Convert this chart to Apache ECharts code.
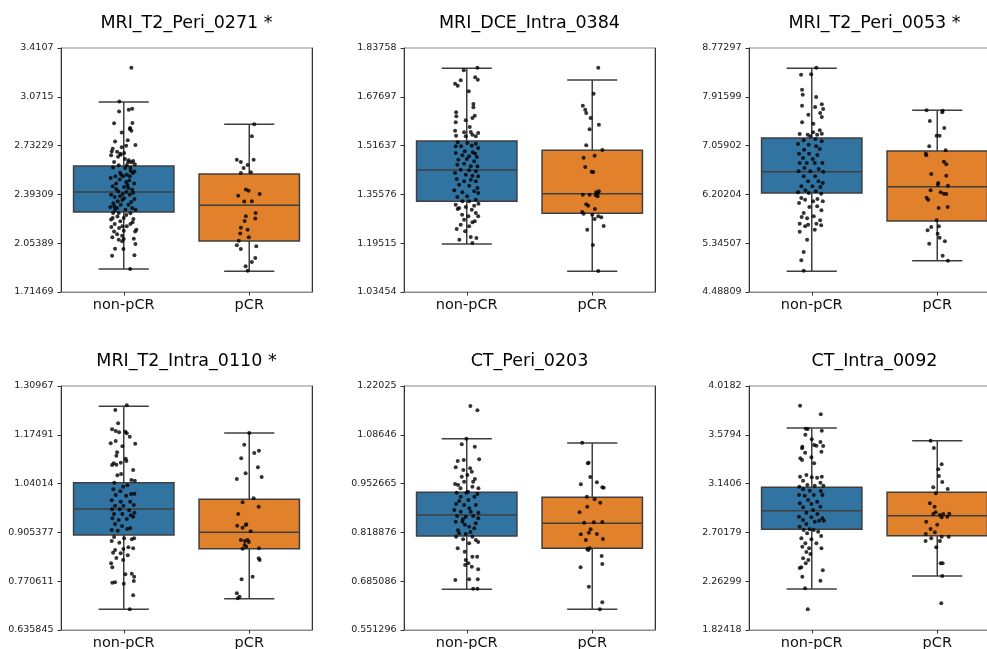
<!DOCTYPE html>
<html>
<head>
<meta charset="utf-8">
<script src="https://cdn.jsdelivr.net/npm/echarts@6.0.0/dist/echarts.min.js"></script>
<style>
  html, body { margin: 0; padding: 0; background: #fff; }
  #chart { width: 987px; height: 649px; }
</style>
</head>
<body>
<div id="chart"></div>
<script>
// categories and titles
var groups = ['non-pCR', 'pCR'];
var titles = ['MRI_T2_Peri_0271 *', 'MRI_DCE_Intra_0384', 'MRI_T2_Peri_0053 *',
              'MRI_T2_Intra_0110 *', 'CT_Peri_0203', 'CT_Intra_0092'];

// y tick labels per panel (bottom to top)
var ticks1 = ['1.71469', '2.05389', '2.39309', '2.73229', '3.0715', '3.4107'];
var ticks2 = ['1.03454', '1.19515', '1.35576', '1.51637', '1.67697', '1.83758'];
var ticks3 = ['4.48809', '5.34507', '6.20204', '7.05902', '7.91599', '8.77297'];
var ticks4 = ['0.635845', '0.770611', '0.905377', '1.04014', '1.17491', '1.30967'];
var ticks5 = ['0.551296', '0.685086', '0.818876', '0.952665', '1.08646', '1.22025'];
var ticks6 = ['1.82418', '2.26299', '2.70179', '3.1406', '3.5794', '4.0182'];

// box stats per group: [lower whisker, Q1, median, Q3, upper whisker]
var box1 = [[1.8746, 2.2708, 2.4098, 2.5905, 3.0354], [1.8584, 2.0692, 2.3171, 2.5349, 2.8802]];
var box2 = [[1.1925, 1.3329, 1.4360, 1.5315, 1.7706], [1.1025, 1.2934, 1.3581, 1.5008, 1.7322]];
var box3 = [[4.8510, 6.2267, 6.6013, 7.1925, 8.4159], [5.0384, 5.7349, 6.3379, 6.9642, 7.6784]];
var box4 = [[0.6929, 0.8982, 0.9700, 1.0427, 1.2535], [0.7224, 0.8605, 0.9056, 0.9967, 1.1799]];
var box5 = [[0.6628, 0.8090, 0.8666, 0.9287, 1.0759], [0.6080, 0.7752, 0.8437, 0.9150, 1.0640]];
var box6 = [[2.1929, 2.7294, 2.8972, 3.1070, 3.6405], [2.3097, 2.6724, 2.8522, 3.0621, 3.5267]];

// strip points: [jitter offset from category, value]
var non1 = [[0.061,3.274],[-0.035,3.038],[0.040,2.982],[0.067,2.989],[-0.037,2.970],[-0.077,2.887],[0.069,2.889],[-0.016,2.824],[0.048,2.848],[0.061,2.836],[0.051,2.855],[-0.069,2.760],[0.032,2.769],[0.093,2.736],[0.019,2.732],[-0.088,2.711],[-0.016,2.720],[-0.053,2.690],[-0.096,2.692],[-0.029,2.676],[0.003,2.681],[-0.101,2.665],[-0.024,2.669],[0.040,2.630],[0.075,2.625],[-0.077,2.618],[0.035,2.616],[0.061,2.616],[-0.040,2.595],[0.024,2.595],[0.011,2.577],[0.053,2.577],[0.085,2.553],[-0.029,2.544],[0.072,2.542],[0.024,2.530],[-0.067,2.519],[-0.005,2.519],[0.048,2.519],[-0.104,2.507],[-0.032,2.496],[0.045,2.489],[0.019,2.479],[-0.061,2.468],[0.083,2.468],[-0.088,2.449],[0.003,2.445],[0.037,2.438],[0.067,2.426],[-0.043,2.414],[0.021,2.410],[-0.008,2.396],[-0.101,2.391],[0.048,2.391],[-0.072,2.375],[0.003,2.366],[0.085,2.361],[-0.048,2.345],[-0.011,2.354],[-0.083,2.331],[-0.024,2.322],[0.037,2.322],[0.067,2.299],[-0.107,2.306],[-0.053,2.299],[0.013,2.287],[-0.069,2.287],[0.093,2.287],[-0.085,2.264],[-0.040,2.264],[0.053,2.262],[-0.088,2.229],[0.000,2.229],[-0.101,2.218],[0.077,2.222],[-0.027,2.206],[-0.072,2.187],[0.053,2.187],[-0.011,2.171],[-0.099,2.167],[0.024,2.171],[-0.037,2.160],[-0.077,2.136],[0.000,2.141],[0.101,2.148],[0.091,2.136],[-0.053,2.116],[-0.013,2.106],[0.080,2.085],[-0.091,2.095],[0.000,2.083],[-0.040,2.078],[-0.013,2.067],[0.093,2.048],[-0.069,2.016],[-0.003,2.014],[-0.093,1.967],[0.085,1.970],[0.051,1.875],
  [-0.045,2.655],[0.010,2.640],[0.088,2.603],[-0.085,2.580],[0.056,2.555],[-0.020,2.530],[0.030,2.458],[-0.060,2.430],[0.075,2.405],[-0.030,2.380],[0.060,2.340],[-0.075,2.310],[0.020,2.250],[-0.050,2.240],[0.070,2.200]];
var pcr1 = [[0.040,2.880],[0.021,2.797],[-0.099,2.634],[-0.067,2.618],[-0.013,2.597],[0.035,2.634],[-0.045,2.577],[-0.067,2.542],[0.013,2.547],[-0.027,2.428],[-0.005,2.419],[0.083,2.396],[-0.088,2.384],[-0.040,2.343],[0.021,2.345],[0.051,2.264],[-0.027,2.241],[0.048,2.225],[-0.037,2.208],[-0.067,2.162],[-0.013,2.148],[-0.072,2.122],[-0.003,2.095],[-0.083,2.071],[-0.099,2.039],[0.056,2.032],[-0.067,2.014],[0.048,1.951],[0.021,1.923],[-0.029,1.893],[-0.013,1.863]];

var non2 = [[0.085,1.7728],[-0.024,1.7640],[-0.048,1.7311],[-0.093,1.7202],[-0.072,1.7136],[0.067,1.7410],[0.088,1.7333],[0.016,1.6949],[0.053,1.6532],[0.053,1.6423],[-0.085,1.6258],[-0.083,1.6126],[0.064,1.6148],[0.045,1.6072],[-0.008,1.5995],[-0.088,1.5929],[0.024,1.5775],[-0.093,1.5655],[-0.021,1.5600],[0.032,1.5611],[0.091,1.5578],[0.072,1.5468],[0.045,1.5523],[-0.085,1.5490],[-0.008,1.5468],[-0.072,1.5271],[0.005,1.5249],[0.072,1.5227],[-0.088,1.5139],[-0.045,1.5139],[0.040,1.5161],[0.091,1.5084],[-0.016,1.4975],[0.048,1.4942],[0.067,1.4898],[-0.088,1.4920],[-0.035,1.4843],[0.019,1.4810],[0.080,1.4788],[-0.067,1.4700],[0.000,1.4722],[0.059,1.4646],[-0.075,1.4536],[-0.021,1.4569],[0.032,1.4481],[0.085,1.4481],[-0.048,1.4371],[0.019,1.4349],[0.072,1.4316],[-0.093,1.4262],[-0.008,1.4207],[0.045,1.4174],[0.091,1.4152],[-0.080,1.4064],[0.032,1.4042],[-0.021,1.3987],[0.072,1.3987],[-0.061,1.3878],[0.019,1.3845],[0.085,1.3768],[-0.099,1.3691],[0.059,1.3658],[-0.035,1.3625],[0.091,1.3603],[0.003,1.3494],[-0.075,1.3472],[0.072,1.3384],[0.019,1.3329],[-0.035,1.3329],[-0.088,1.3219],[0.059,1.3187],[-0.061,1.3110],[0.093,1.3252],[-0.008,1.3143],[0.040,1.3055],[-0.072,1.3077],[-0.037,1.2890],[0.072,1.2945],[0.013,1.2835],[0.091,1.2835],[-0.021,1.2726],[0.045,1.2638],[-0.048,1.2561],[0.019,1.2506],[-0.080,1.2419],[0.064,1.2671],[-0.013,1.2342],[0.032,1.2155],[0.077,1.2122],[-0.059,1.2068],[0.045,1.1958]];
var pcr2 = [[0.048,1.7728],[0.011,1.6872],[-0.075,1.6478],[-0.056,1.6346],[-0.048,1.6236],[-0.013,1.6072],[0.053,1.5852],[-0.021,1.5705],[-0.048,1.5172],[0.080,1.5019],[0.019,1.4832],[-0.069,1.4766],[-0.056,1.4459],[-0.005,1.4305],[0.008,1.4294],[-0.021,1.3549],[0.032,1.3625],[0.053,1.3658],[0.027,1.3527],[0.043,1.3494],[-0.075,1.3549],[0.045,1.3603],[-0.048,1.3230],[-0.032,1.3187],[-0.080,1.2978],[0.021,1.3077],[-0.069,1.2923],[0.000,1.2890],[0.048,1.2835],[0.072,1.2802],[0.019,1.2748],[0.091,1.2517],[-0.040,1.2397],[0.005,1.1892],[0.048,1.1036]];

var non3 = [[0.037,8.428],[-0.085,8.305],[-0.005,8.311],[-0.077,8.041],[-0.072,7.953],[0.035,7.912],[-0.077,7.760],[0.080,7.784],[0.027,7.737],[0.091,7.702],[0.067,7.632],[-0.027,7.602],[0.080,7.561],[-0.077,7.468],[0.013,7.444],[0.064,7.327],[-0.096,7.263],[-0.032,7.251],[0.011,7.292],[0.043,7.251],[0.080,7.269],[-0.011,7.222],[0.029,7.175],[-0.064,7.152],[0.080,7.134],[-0.109,7.087],[-0.024,7.075],[0.035,7.046],[-0.061,6.988],[0.064,6.999],[-0.101,6.917],[-0.021,6.917],[0.045,6.894],[-0.069,6.841],[0.008,6.824],[0.085,6.753],[-0.096,6.753],[-0.040,6.753],[0.024,6.753],[-0.059,6.666],[0.056,6.648],[-0.104,6.607],[-0.011,6.607],[0.091,6.601],[-0.064,6.519],[0.027,6.519],[-0.029,6.431],[0.053,6.431],[0.088,6.402],[-0.083,6.344],[0.005,6.344],[0.069,6.332],[-0.051,6.273],[0.032,6.256],[-0.109,6.238],[-0.024,6.227],[0.075,6.215],[-0.083,6.139],[-0.053,6.110],[0.011,6.080],[0.045,6.121],[0.088,6.080],[-0.101,6.051],[-0.019,5.981],[0.043,5.992],[0.077,5.922],[-0.064,5.875],[0.016,5.817],[-0.080,5.805],[-0.037,5.782],[0.067,5.747],[-0.096,5.688],[-0.029,5.671],[0.037,5.688],[0.075,5.659],[-0.053,5.641],[-0.096,5.548],[0.024,5.583],[-0.037,5.407],[-0.064,5.191],[-0.083,5.044],[-0.064,4.863]];
var pcr3 = [[-0.085,7.678],[0.043,7.672],[0.040,7.643],[-0.059,7.491],[0.056,7.368],[-0.005,7.233],[0.019,7.233],[-0.064,7.046],[0.067,6.976],[-0.091,6.917],[-0.088,6.888],[0.053,6.777],[0.072,6.730],[-0.048,6.560],[0.072,6.531],[0.008,6.402],[0.085,6.355],[-0.053,6.273],[0.005,6.373],[0.027,6.238],[0.053,6.215],[0.072,6.209],[-0.085,6.145],[-0.072,6.110],[0.011,5.963],[0.083,5.981],[-0.005,5.747],[-0.048,5.630],[0.013,5.641],[-0.077,5.571],[0.003,5.512],[0.019,5.442],[-0.064,5.337],[0.061,5.378],[0.043,5.126],[0.085,5.038]];

var non4 = [[0.024,1.2563],[-0.067,1.2434],[-0.045,1.2066],[-0.093,1.1900],[-0.064,1.1854],[-0.037,1.1817],[0.013,1.1836],[0.024,1.1790],[0.048,1.1698],[-0.104,1.1513],[-0.064,1.1578],[0.091,1.1504],[-0.011,1.1431],[-0.053,1.1265],[-0.059,1.1173],[0.016,1.1090],[0.021,1.1026],[-0.080,1.0961],[-0.059,1.0924],[-0.093,1.0915],[-0.024,1.0980],[0.075,1.0777],[-0.021,1.0667],[-0.051,1.0630],[0.061,1.0501],[0.088,1.0482],[-0.075,1.0427],[0.029,1.0354],[-0.005,1.0317],[-0.083,1.0243],[-0.027,1.0188],[0.059,1.0114],[-0.064,1.0087],[0.019,1.0068],[0.085,1.0123],[-0.096,0.9939],[-0.024,0.9903],[0.051,0.9903],[-0.069,0.9792],[-0.003,0.9792],[0.080,0.9810],[-0.093,0.9691],[-0.032,0.9691],[0.043,0.9663],[0.085,0.9599],[-0.077,0.9562],[-0.011,0.9562],[0.056,0.9525],[-0.091,0.9442],[-0.040,0.9396],[0.024,0.9424],[0.075,0.9488],[-0.069,0.9286],[-0.013,0.9231],[0.051,0.9166],[-0.096,0.9120],[-0.048,0.9102],[0.027,0.9148],[-0.077,0.8927],[0.003,0.8890],[0.064,0.8862],[-0.096,0.8816],[-0.035,0.8770],[0.083,0.8890],[0.037,0.8641],[-0.069,0.8568],[-0.003,0.8595],[0.075,0.8614],[-0.085,0.8494],[-0.024,0.8476],[0.032,0.8420],[-0.059,0.8347],[-0.005,0.8292],[-0.101,0.8200],[-0.091,0.8089],[0.064,0.7914],[0.013,0.7896],[0.083,0.7831],[0.080,0.7712],[-0.091,0.7666],[-0.069,0.7675],[0.000,0.7638],[0.075,0.7316],[0.048,0.6929]];
var pcr4 = [[0.000,1.1799],[-0.040,1.1477],[0.040,1.1246],[-0.064,1.1099],[0.077,1.1311],[-0.029,1.0685],[-0.099,1.0528],[0.069,1.0851],[0.099,1.0584],[-0.053,0.9884],[0.035,0.9995],[0.075,0.9764],[-0.088,0.9562],[-0.096,0.9240],[-0.053,0.9185],[-0.027,0.9258],[-0.024,0.9277],[0.011,0.9083],[-0.067,0.8844],[-0.035,0.8816],[-0.013,0.8844],[-0.003,0.8789],[-0.037,0.8706],[-0.024,0.8660],[-0.053,0.8605],[0.077,0.8614],[0.075,0.8338],[0.083,0.8292],[-0.061,0.7758],[0.027,0.7831],[-0.099,0.7371],[-0.077,0.7279],[-0.091,0.7233]];

var non5 = [[0.029,1.1654],[0.085,1.1535],[-0.003,1.0759],[-0.040,1.0603],[0.064,1.0539],[0.099,1.0192],[-0.072,1.0146],[-0.024,1.0174],[-0.088,0.9973],[-0.027,0.9900],[0.027,0.9945],[0.040,0.9854],[-0.040,0.9717],[0.005,0.9762],[-0.021,0.9580],[0.051,0.9580],[-0.093,0.9516],[-0.069,0.9488],[0.045,0.9443],[0.093,0.9397],[-0.080,0.9278],[-0.003,0.9278],[0.085,0.9242],[-0.048,0.9168],[0.061,0.9168],[0.013,0.9077],[-0.085,0.8967],[-0.021,0.8940],[0.072,0.8940],[-0.099,0.8803],[-0.048,0.8757],[0.032,0.8757],[0.093,0.8730],[-0.077,0.8638],[-0.008,0.8620],[0.051,0.8638],[0.091,0.8574],[-0.088,0.8483],[-0.035,0.8483],[0.072,0.8437],[0.019,0.8346],[-0.061,0.8163],[-0.008,0.8145],[-0.085,0.8072],[0.045,0.8072],[-0.029,0.7999],[0.072,0.7980],[-0.072,0.7752],[0.019,0.7889],[-0.016,0.7661],[0.091,0.7926],[0.045,0.7523],[-0.008,0.7432],[0.083,0.7523],[0.013,0.7341],[-0.013,0.7295],[0.040,0.7249],[0.091,0.7176],[-0.091,0.6884],[0.019,0.6902],[0.088,0.6902],[0.051,0.6646],[0.085,0.6646],
  [-0.060,0.9050],[0.020,0.8850],[-0.030,0.8550],[0.060,0.8300],[-0.070,0.8250],[0.010,0.9300],[0.065,0.9650],[-0.050,0.9400],[0.030,0.8200],[-0.015,0.8400]];
var pcr5 = [[-0.080,1.0649],[-0.029,1.0101],[-0.035,1.0083],[-0.016,0.9708],[0.037,0.9561],[0.080,0.9424],[0.091,0.9415],[-0.091,0.9507],[-0.043,0.9168],[0.019,0.9095],[-0.040,0.8894],[0.064,0.9004],[-0.101,0.8739],[-0.064,0.8456],[0.013,0.8465],[0.080,0.8474],[-0.013,0.8273],[-0.027,0.8181],[-0.091,0.8136],[0.037,0.8145],[-0.051,0.7980],[0.085,0.8008],[-0.021,0.7752],[-0.040,0.7734],[-0.032,0.7706],[0.075,0.7542],[-0.093,0.7231],[0.080,0.7322],[-0.027,0.6701],[0.080,0.6271],[0.061,0.6080]];

var non6 = [[-0.093,3.8414],[0.072,3.7634],[-0.048,3.6346],[-0.032,3.6316],[0.080,3.6166],[-0.051,3.5806],[0.000,3.5386],[0.069,3.5147],[-0.075,3.4727],[0.019,3.4877],[0.037,3.4817],[0.091,3.4787],[0.077,3.4277],[-0.077,3.4577],[-0.053,3.4187],[-0.003,3.3768],[-0.091,3.3678],[-0.077,3.3528],[0.019,3.3228],[-0.043,3.2179],[-0.093,3.2029],[0.000,3.1969],[0.080,3.2029],[0.043,3.1939],[-0.069,3.1670],[0.069,3.1490],[-0.035,3.1280],[-0.099,3.1130],[0.024,3.1220],[0.093,3.1220],[-0.069,3.0890],[-0.016,3.0771],[0.072,3.0741],[-0.101,3.0381],[-0.056,3.0321],[0.016,3.0381],[0.085,3.0381],[-0.029,2.9931],[0.043,2.9781],[-0.096,2.9632],[-0.003,2.9572],[-0.069,2.9272],[0.069,2.9332],[0.011,2.9032],[-0.043,2.8792],[0.045,2.8672],[-0.101,2.8433],[-0.003,2.8373],[0.085,2.8283],[-0.069,2.8133],[0.024,2.7983],[0.059,2.8073],[0.096,2.8073],[-0.043,2.7773],[-0.096,2.7533],[-0.016,2.7294],[-0.064,2.7234],[0.016,2.7234],[0.051,2.7084],[-0.037,2.6934],[0.075,2.6694],[-0.083,2.6484],[-0.003,2.6394],[-0.051,2.6035],[0.037,2.6035],[-0.075,2.5735],[-0.021,2.5585],[0.077,2.5585],[-0.043,2.5255],[-0.011,2.5076],[-0.069,2.4686],[-0.027,2.4536],[-0.048,2.4236],[-0.083,2.3877],[-0.096,2.3817],[0.088,2.3607],[-0.075,2.3038],[0.069,2.2678],[-0.053,2.1988],[-0.032,2.0100]];
var pcr6 = [[-0.053,3.5267],[-0.027,3.4607],[0.008,3.2689],[0.035,3.3138],[0.013,3.2089],[0.040,3.1550],[-0.032,3.1070],[0.083,3.0920],[-0.011,3.0531],[-0.059,2.9632],[-0.021,2.9332],[-0.013,2.8822],[-0.032,2.8672],[0.048,2.8672],[0.021,2.8583],[0.096,2.8702],[0.035,2.8373],[0.080,2.8433],[-0.088,2.7983],[0.000,2.7713],[-0.053,2.7324],[-0.019,2.7024],[-0.091,2.6874],[0.035,2.6634],[-0.048,2.6484],[0.091,2.6634],[-0.093,2.6245],[0.021,2.6245],[-0.008,2.5675],[0.027,2.4236],[0.043,2.4236],[0.040,2.3097],[0.032,2.0640]];

var panels = [
  { title: titles[0], ticks: ticks1, box: box1, non: non1, pcr: pcr1 },
  { title: titles[1], ticks: ticks2, box: box2, non: non2, pcr: pcr2 },
  { title: titles[2], ticks: ticks3, box: box3, non: non3, pcr: pcr3 },
  { title: titles[3], ticks: ticks4, box: box4, non: non4, pcr: pcr4 },
  { title: titles[4], ticks: ticks5, box: box5, non: non5, pcr: pcr5 },
  { title: titles[5], ticks: ticks6, box: box6, non: non6, pcr: pcr6 }
];

var font = 'DejaVu Sans';
var boxColors = ['#3274a1', '#e1812c'];
var edge = '#3f3f3f';
var colLeft = [61, 404, 749];
var rowTop = [48, 386];
var titleTop = [14, 352];
var plotW = 251, plotH = 244;

var chart = echarts.init(document.getElementById('chart'), null, { renderer: 'canvas' });

// seaborn-like box: half-width box, quarter-width caps
function drawBox(params, api) {
  var c = api.value(0);
  var band = api.size([1, 0])[0];
  var lo = api.coord([c, api.value(1)]);
  var q1 = api.coord([c, api.value(2)]);
  var md = api.coord([c, api.value(3)]);
  var q3 = api.coord([c, api.value(4)]);
  var hi = api.coord([c, api.value(5)]);
  var x = lo[0], bw = band * 0.4, cw = band * 0.2;
  var ln = { stroke: edge, lineWidth: 1.5 };
  return {
    type: 'group',
    children: [
      { type: 'line', shape: { x1: x, y1: lo[1], x2: x, y2: q1[1] }, style: ln },
      { type: 'line', shape: { x1: x, y1: q3[1], x2: x, y2: hi[1] }, style: ln },
      { type: 'line', shape: { x1: x - cw, y1: lo[1], x2: x + cw, y2: lo[1] }, style: ln },
      { type: 'line', shape: { x1: x - cw, y1: hi[1], x2: x + cw, y2: hi[1] }, style: ln },
      { type: 'rect', shape: { x: x - bw, y: q3[1], width: 2 * bw, height: q1[1] - q3[1] },
        style: { fill: boxColors[c], stroke: edge, lineWidth: 1.5 } },
      { type: 'line', shape: { x1: x - bw, y1: md[1], x2: x + bw, y2: md[1] }, style: ln }
    ]
  };
}

var option = {
  animation: false,
  backgroundColor: '#fff',
  title: [], grid: [], xAxis: [], yAxis: [], series: []
};

panels.forEach(function (p, i) {
  var row = Math.floor(i / 3), col = i % 3;
  var lo = parseFloat(p.ticks[0]);
  var step = Number(((parseFloat(p.ticks[5]) - lo) / 5).toFixed(7));
  var hi = Number((lo + 5 * step).toFixed(7));

  option.title.push({
    text: p.title,
    left: colLeft[col] + plotW / 2,
    top: titleTop[row],
    textAlign: 'center',
    padding: 0,
    textStyle: { fontFamily: font, fontSize: 17.5, fontWeight: 'normal', color: '#000' }
  });

  option.grid.push({
    left: colLeft[col], top: rowTop[row], width: plotW, height: plotH,
    show: true, borderColor: '#8a8a8a', borderWidth: 1, backgroundColor: '#fff',
    containLabel: false, outerBoundsMode: 'none'
  });

  option.xAxis.push({
    type: 'category', gridIndex: i, data: groups,
    axisLine: { show: true, onZero: false, lineStyle: { color: '#8a8a8a', width: 1 } },
    axisTick: { show: true, alignWithLabel: true, length: 3.5, lineStyle: { color: '#333' } },
    axisLabel: { fontFamily: font, fontSize: 14.5, color: '#111', margin: 6 },
    splitLine: { show: false }
  });
  // hidden value axis for jittered strip points
  option.xAxis.push({ type: 'value', gridIndex: i, min: -0.5, max: 1.5, show: false });

  option.yAxis.push({
    type: 'value', gridIndex: i, min: lo, max: hi, interval: step,
    axisLine: { show: true, onZero: false, lineStyle: { color: '#333', width: 1 } },
    axisTick: { show: true, length: 3.5, lineStyle: { color: '#333' } },
    axisLabel: {
      fontFamily: font, fontSize: 9.5, color: '#222', margin: 7.5,
      formatter: function (v, idx) {
        var k = Math.round((v - lo) / step);
        return (idx < p.ticks.length && k >= 0 && k < p.ticks.length) ? p.ticks[k] : '';
      }
    },
    splitLine: { show: false }
  });
  option.yAxis.push({
    type: 'value', gridIndex: i, position: 'right', min: lo, max: hi, interval: step,
    axisLine: { show: true, onZero: false, lineStyle: { color: '#333', width: 1 } },
    axisTick: { show: false }, axisLabel: { show: false }, splitLine: { show: false }
  });

  option.series.push({
    type: 'custom', xAxisIndex: 2 * i, yAxisIndex: 2 * i,
    renderItem: drawBox,
    encode: { x: 0, y: [1, 2, 3, 4, 5] },
    data: p.box.map(function (b, g) { return [g].concat(b); }),
    z: 2
  });

  var pts = p.non.map(function (d) { return [d[0], d[1]]; })
    .concat(p.pcr.map(function (d) { return [1 + d[0], d[1]]; }));
  option.series.push({
    type: 'scatter', xAxisIndex: 2 * i + 1, yAxisIndex: 2 * i,
    data: pts, symbol: 'circle', symbolSize: 4,
    itemStyle: { color: '#000' }, z: 5, silent: true
  });
});

chart.setOption(option);
</script>
</body>
</html>
